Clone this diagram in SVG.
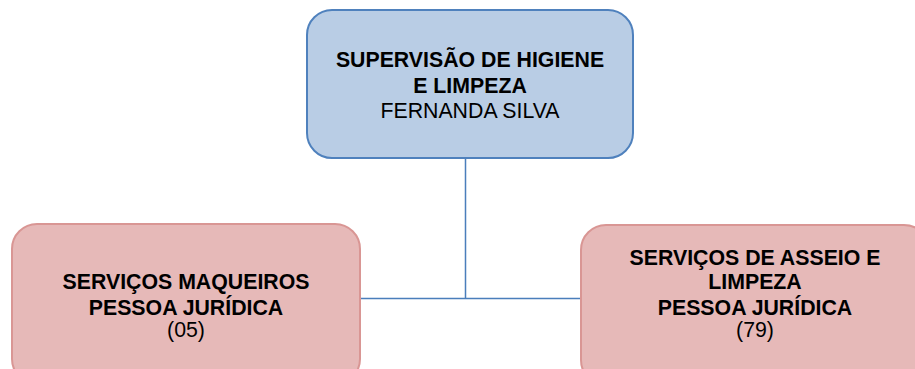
<svg xmlns="http://www.w3.org/2000/svg" width="915" height="369" viewBox="0 0 915 369">
<style>
.blue{fill:#b9cde5;stroke:#4f81bd;stroke-width:2}
.rose{fill:#e6b9b8;stroke:#d99694;stroke-width:2}
.t{font-family:"Liberation Sans",Arial,sans-serif;font-size:21.3px;fill:#000;text-anchor:middle}
.b{font-weight:bold}
.conn{stroke:#4a7ebb;stroke-width:1.5;fill:none}
</style>
<rect width="915" height="369" fill="#ffffff"/>
<g id="connectors">
<path class="conn" d="M465.5 158 V298.5 M360 298.5 H581"/>
</g>
<g id="top">
<rect class="blue" x="307" y="10" width="326" height="148" rx="25"/>
<text class="t b" x="470" y="67">SUPERVISÃO DE HIGIENE</text>
<text class="t b" x="470" y="92.5">E LIMPEZA</text>
<text class="t" x="470" y="118">FERNANDA SILVA</text>
</g>
<g id="left">
<rect class="rose" x="12" y="224" width="348" height="160" rx="25"/>
<text class="t b" x="186" y="289">SERVIÇOS MAQUEIROS</text>
<text class="t b" x="186" y="314.5">PESSOA JURÍDICA</text>
<text class="t" x="186" y="337">(05)</text>
</g>
<g id="right">
<rect class="rose" x="581" y="225" width="348" height="160" rx="25"/>
<text class="t b" x="755" y="265">SERVIÇOS DE ASSEIO E</text>
<text class="t b" x="755" y="289">LIMPEZA</text>
<text class="t b" x="755" y="314.5">PESSOA JURÍDICA</text>
<text class="t" x="755" y="337">(79)</text>
</g>
</svg>
